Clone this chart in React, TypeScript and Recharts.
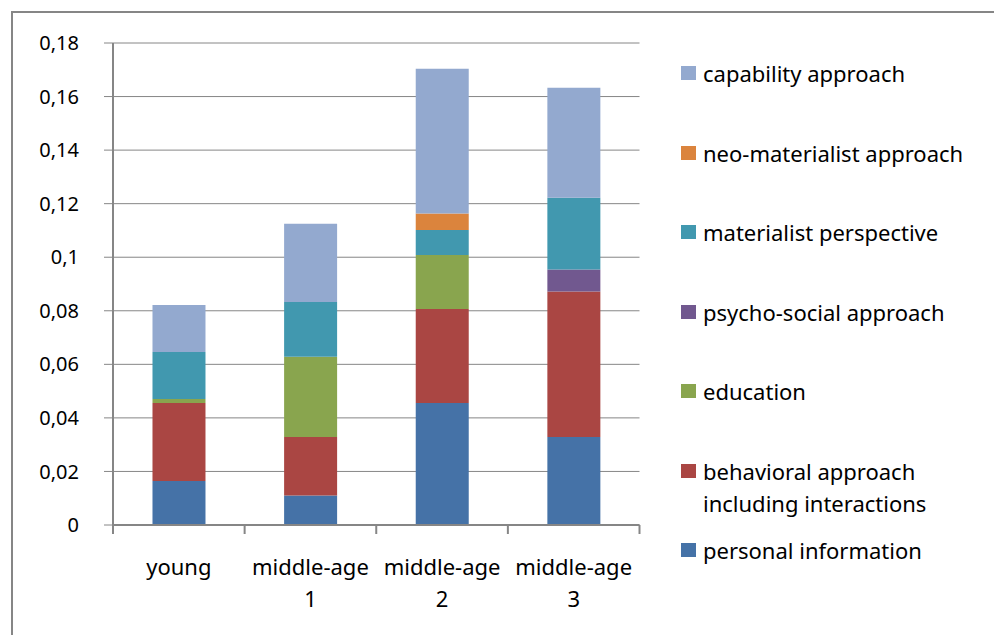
import { BarChart, Bar, XAxis, YAxis, CartesianGrid, Legend } from 'recharts'

const categories = ['young', 'middle-age 1', 'middle-age 2', 'middle-age 3']

// stacked from the bottom up
const personalInformation = [0.0164, 0.011, 0.0456, 0.0329]
const behavioralApproach = [0.0292, 0.0219, 0.0351, 0.0543]
const education = [0.0015, 0.0299, 0.0201, 0]
const psychoSocial = [0, 0, 0, 0.0082]
const materialistPerspective = [0.0175, 0.0205, 0.0094, 0.0268]
const neoMaterialist = [0, 0, 0.0061, 0]
const capabilityApproach = [0.0176, 0.0292, 0.0541, 0.0411]

const yTicks = [0, 0.02, 0.04, 0.06, 0.08, 0.1, 0.12, 0.14, 0.16, 0.18]

const series = [
  { key: 'personal', name: 'personal information', color: '#4572A7', values: personalInformation },
  { key: 'behavioral', name: 'behavioral approach\nincluding interactions', color: '#AA4643', values: behavioralApproach },
  { key: 'education', name: 'education', color: '#89A54E', values: education },
  { key: 'psycho', name: 'psycho-social approach', color: '#71588F', values: psychoSocial },
  { key: 'materialist', name: 'materialist perspective', color: '#4198AF', values: materialistPerspective },
  { key: 'neo', name: 'neo-materialist approach', color: '#DB843D', values: neoMaterialist },
  { key: 'capability', name: 'capability approach', color: '#93A9CF', values: capabilityApproach },
]

const data = categories.map((name, i) => {
  const row: Record<string, string | number> = { name }
  series.forEach(s => { row[s.key] = s.values[i] })
  return row
})

const FONT = '"Noto Sans", sans-serif'
const GRID = '#868686'
const LEGEND_W = 300

// category label with Excel-style tick marks on the band edges
// eslint-disable-next-line @typescript-eslint/no-explicit-any
const CategoryTick = (props: any) => {
  const { x, y, payload, index, width, visibleTicksCount } = props
  const step = width / visibleTicksCount
  const lines = String(payload.value).split(' ')
  return (
    <g>
      <line x1={x - step / 2} y1={y} x2={x - step / 2} y2={y + 9} stroke={GRID} strokeWidth={2} />
      {index === visibleTicksCount - 1 && (
        <line x1={x + step / 2} y1={y} x2={x + step / 2} y2={y + 9} stroke={GRID} strokeWidth={2} />
      )}
      {lines.map((l, i) => (
        <text key={i} x={x} y={y + 50 + i * 32} textAnchor="middle" fill="#000" fontSize={22} fontFamily={FONT}>
          {l}
        </text>
      ))}
    </g>
  )
}

// legend lists the stack top-down, in series order
// eslint-disable-next-line @typescript-eslint/no-explicit-any
const renderLegend = (props: any) => {
  const payload = props.payload || []
  const items = [...series].reverse().map(s => {
    // eslint-disable-next-line @typescript-eslint/no-explicit-any
    const p = payload.find((e: any) => e.dataKey === s.key)
    return { value: s.name, color: p?.color ?? s.color }
  })
  return (
    <div style={{ width: LEGEND_W, fontFamily: FONT, fontSize: 22, color: '#000' }}>
      {items.map((p, i) => (
        <div key={i} style={{ height: 79.5, display: 'flex', alignItems: 'flex-start' }}>
          <div style={{ width: 15, height: 14, background: p.color, marginTop: 9, marginRight: 7, flexShrink: 0 }} />
          <div style={{ whiteSpace: 'pre-line', lineHeight: '32px' }}>{p.value}</div>
        </div>
      ))}
    </div>
  )
}

export default function App() {
  return (
    <div style={{ position: 'absolute', left: 0, top: 0, width: 994, height: 635, overflow: 'hidden', background: '#fff' }}>
      <div style={{ position: 'absolute', left: 11, top: 11, width: 1200, height: 1200, border: `2px solid ${GRID}` }} />
      <BarChart
        width={994}
        height={635}
        data={data}
        barCategoryGap="30%"
        margin={{ top: 43, right: 354.5 - LEGEND_W, left: 53, bottom: 0 }}
        style={{ position: 'absolute', left: 0, top: 0 }}
      >
        <CartesianGrid vertical={false} stroke={GRID} strokeWidth={1} />
        <XAxis
          dataKey="name"
          height={110}
          interval={0}
          tickLine={false}
          tickSize={0}
          tickMargin={0}
          axisLine={{ stroke: GRID, strokeWidth: 2 }}
          tick={<CategoryTick />}
        />
        <YAxis
          width={60}
          domain={[0, 0.18]}
          ticks={yTicks}
          interval={0}
          tickSize={9}
          tickMargin={25}
          axisLine={{ stroke: GRID, strokeWidth: 2 }}
          tickLine={{ stroke: GRID, strokeWidth: 1 }}
          tick={{ fill: '#000', fontSize: 20, fontFamily: FONT }}
          tickFormatter={(v: number) => String(v).replace('.', ',')}
        />
        <Legend
          layout="vertical"
          align="right"
          verticalAlign="top"
          content={renderLegend}
          wrapperStyle={{ left: 681, top: 57, right: 'auto' }}
        />
        {series.map(s => (
          <Bar key={s.key} dataKey={s.key} name={s.name} stackId="a" fill={s.color} isAnimationActive={false} />
        ))}
      </BarChart>
    </div>
  )
}
